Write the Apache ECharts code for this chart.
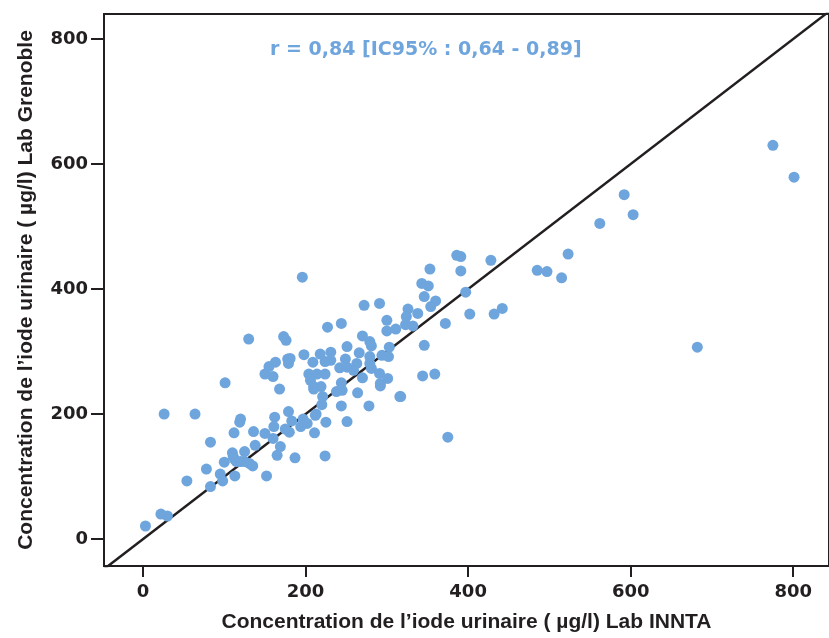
<!DOCTYPE html>
<html>
<head>
<meta charset="utf-8">
<script src="https://cdn.jsdelivr.net/npm/echarts@6/dist/echarts.min.js"></script>
<style>html,body{margin:0;padding:0;background:#fff;}#c{width:829px;height:638px;}</style>
</head>
<body>
<div id="c"></div>
<script>
// INNTA (x) vs Grenoble (y), µg/l
const innta = [3,22,30,26,64,54,83,78,95,98,83,100,111,113,115,110,113,120,125,131,135,101,112,120,119,125,130,136,138,152,150,162,161,160,169,175,180,179,183,165,187,224,194,197,202,211,213,225,220,212,
  198,209,218,231,231,224,204,214,224,206,210,219,210,221,238,244,245,249,251,242,263,266,270,264,244,251,278,279,281,279,294,292,292,301,302,316,291,259,
  150,155,160,163,168,181,179,178,
  196,272,291,300,300,311,227,244,173,176,270,279,281,251,303,
  323,332,326,324,338,346,344,359,317,375,372,
  386,391,428,353,391,343,351,346,360,354,397,402,432,442,
  485,497,515,523,562,592,603,775,801,682];
const grenoble = [21,40,37,200,200,93,84,112,104,93,155,123,132,101,124,138,127,124,140,121,117,250,170,192,187,124,320,172,150,101,169,195,180,161,148,176,171,204,189,134,130,133,180,192,185,170,200,187,215,198,
  295,283,296,299,286,284,264,264,264,254,244,244,240,228,236,250,238,288,275,274,281,298,258,234,213,188,213,292,273,281,294,249,245,257,292,228,265,270,
  264,276,260,283,240,289,281,288,
  419,374,377,350,333,336,339,345,324,318,325,316,309,308,307,
  343,341,368,356,361,310,261,264,228,163,345,
  454,452,446,432,429,409,405,388,381,372,395,360,360,369,
  430,428,418,456,505,551,519,630,579,307];
const tickValues = [0,200,400,600,800];
const identityLine = [-60, 900];
const xTitle = "Concentration de l\u2019iode urinaire ( \u00b5g/l) Lab INNTA";
const yTitle = "Concentration de l\u2019iode urinaire ( \u00b5g/l) Lab Grenoble";
const corrText = "r = 0,84 [IC95% : 0,64 - 0,89]";

const points = innta.map((v, i) => [v, grenoble[i]]);
const chart = echarts.init(document.getElementById('c'), null, {renderer: 'canvas'});
const labelFont = {fontFamily: 'DejaVu Sans', fontWeight: 'bold', fontSize: 18, color: '#231f20'};
const nameFont = {fontFamily: 'Liberation Sans', fontWeight: 'bold', fontSize: 21, color: '#231f20'};
chart.setOption({
  animation: false,
  backgroundColor: '#ffffff',
  grid: {left: 104, right: -2, top: 14, bottom: 72, show: true, borderColor: '#231f20', borderWidth: 2, backgroundColor: 'transparent'},
  graphic: [{
    type: 'text', left: 270, top: 41,
    style: {text: corrText, fill: '#6fa5dd', font: 'bold 19px "DejaVu Sans"'}
  }],
  xAxis: {
    type: 'value', min: -48, max: 844,
    splitLine: {show: false},
    axisLine: {show: false, onZero: false},
    axisTick: {show: true, inside: false, length: 11, customValues: tickValues, lineStyle: {color: '#231f20', width: 2}},
    axisLabel: Object.assign({margin: 17, customValues: tickValues}, labelFont),
    name: xTitle, nameLocation: 'middle', nameGap: 46,
    nameTextStyle: nameFont
  },
  yAxis: {
    type: 'value', min: -43, max: 840,
    splitLine: {show: false},
    axisLine: {show: false, onZero: false},
    axisTick: {show: true, inside: false, length: 13, customValues: tickValues, lineStyle: {color: '#231f20', width: 2}},
    axisLabel: Object.assign({margin: 16, customValues: tickValues}, labelFont),
    name: yTitle, nameLocation: 'middle', nameGap: 67, nameRotate: 90,
    nameTextStyle: nameFont
  },
  series: [{
    type: 'line', data: identityLine.map(v => [v, v]), symbol: 'none', clip: true,
    lineStyle: {color: '#231f20', width: 2.5}, z: 1, silent: true
  }, {
    type: 'scatter', data: points, symbolSize: 11,
    itemStyle: {color: '#6fa5dd', opacity: 1}, z: 3
  }]
});
</script>
</body>
</html>
